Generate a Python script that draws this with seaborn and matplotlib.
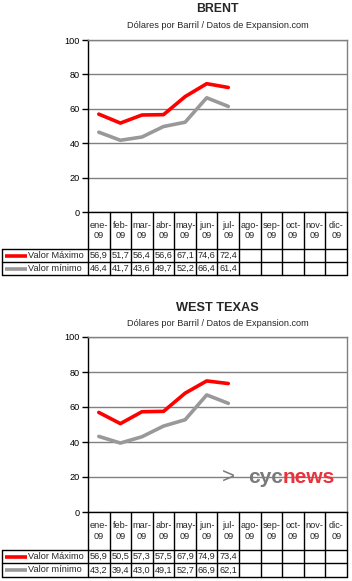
import pandas as pd
import matplotlib.pyplot as plt
import seaborn as sns

# --- data ---
meses = ["ene-", "feb-", "mar-", "abr-", "may-", "jun-", "jul-", "ago-", "sep-", "oct-", "nov-", "dic-"]
anio = "09"
series = ["Valor Máximo", "Valor mínimo"]

brent_max = [56.9, 51.7, 56.4, 56.6, 67.1, 74.6, 72.4]
brent_min = [46.4, 41.7, 43.6, 49.7, 52.2, 66.4, 61.4]

wti_max = [56.9, 50.5, 57.3, 57.5, 67.9, 74.9, 73.4]
wti_min = [43.2, 39.4, 43.0, 49.1, 52.7, 66.9, 62.1]

subtitulo = "Dólares por Barril / Datos de Expansion.com"
colores = {"Valor Máximo": "#ff0000", "Valor mínimo": "#999999"}

sns.set_style("white")
plt.rcParams["font.family"] = ["Liberation Sans", "DejaVu Sans"]

W, H = 352, 581
FS = 6.6  # small text size
fig = plt.figure(figsize=(W / 100, H / 100), dpi=100)
fig.patch.set_facecolor("white")


def fx(px):
    return px / W


def fy(py):
    return 1 - py / H


PL, PR = 88, 347  # plot area left / right in pixels
COLW = (PR - PL) / 12.0


def px2x(px):
    return -0.5 + (px - PL) / COLW


def chart(titulo, vmax, vmin, top, bottom, tab_rows, title_y, sub_y, tsize):
    # === line chart ===
    ax = fig.add_axes([fx(PL), fy(bottom), fx(PR) - fx(PL), (bottom - top) / H])
    df = pd.DataFrame({
        "mes": list(range(len(vmax))) * 2,
        "valor": vmax + vmin,
        "serie": [series[0]] * len(vmax) + [series[1]] * len(vmin),
    })
    sns.lineplot(data=df, x="mes", y="valor", hue="serie", palette=colores,
                 linewidth=2.6, legend=False, ax=ax, zorder=3)
    ax.set_xlim(-0.5, 11.5)
    ax.set_ylim(0, 100)
    ax.set_yticks(range(0, 101, 20))
    ax.set_xticks([])
    ax.set_xlabel("")
    ax.set_ylabel("")
    ax.yaxis.grid(True, color="#808080", linewidth=1)
    ax.tick_params(axis="y", length=4, width=1, direction="out", colors="black",
                   labelsize=FS, pad=2, left=True)
    for s in ["top", "right"]:
        ax.spines[s].set_color("#808080")
        ax.spines[s].set_linewidth(1)
    for s in ["left", "bottom"]:
        ax.spines[s].set_color("black")
        ax.spines[s].set_linewidth(1)

    fig.text(fx((PL + PR) / 2), fy(title_y), titulo, ha="center", va="center",
             fontsize=tsize, fontweight="bold")
    fig.text(fx((PL + PR) / 2), fy(sub_y), subtitulo, ha="center", va="center",
             fontsize=FS)

    # === data table ===
    r0, r1, r2, r3 = tab_rows
    axt = fig.add_axes([fx(2), fy(r3), fx(PR) - fx(2), (r3 - r0) / H])
    axt.set_xlim(px2x(2), 11.5)
    axt.set_ylim(r3, r0)
    axt.axis("off")
    lk = dict(color="black", linewidth=1, clip_on=False)
    # column lines
    for i in range(13):
        axt.plot([i - 0.5, i - 0.5], [r0, r3], **lk)
    axt.plot([px2x(2), px2x(2)], [r1, r3], **lk)
    for y in [r1, r2, r3]:
        axt.plot([px2x(2), 11.5], [y, y], **lk)

    for i, m in enumerate(meses):
        axt.text(i, (r0 + r1) / 2, m + "\n" + anio, ha="center", va="center",
                 fontsize=FS, linespacing=1.15)

    for (nombre, vals, ya, yb) in [(series[0], vmax, r1, r2), (series[1], vmin, r2, r3)]:
        ym = (ya + yb) / 2
        axt.plot([px2x(5), px2x(27)], [ym, ym], color=colores[nombre], linewidth=2.6,
                 solid_capstyle="butt")
        axt.text(px2x(28), ym, nombre, ha="left", va="center", fontsize=FS)
        for i, v in enumerate(vals):
            axt.text(i, ym, f"{v:.1f}".replace(".", ","), ha="center", va="center",
                     fontsize=FS)
    return ax


chart("BRENT", brent_max, brent_min, 40, 212, (212, 249, 262, 275), 9, 25, 8.8)
chart("WEST TEXAS", wti_max, wti_min, 337, 512, (512, 550, 563, 577), 308, 324, 9.2)

# watermark
fig.text(fx(222), fy(483), ">", ha="left", va="baseline", fontsize=16, color="#7a7a7a")
fig.text(fx(283), fy(483), "cyc", ha="right", va="baseline", fontsize=15,
         fontweight="bold", color="#7a7a7a")
fig.text(fx(283), fy(483), "news", ha="left", va="baseline", fontsize=15,
         fontweight="bold", color="#e8323c")

plt.savefig("out.png", dpi=100, facecolor="white")
